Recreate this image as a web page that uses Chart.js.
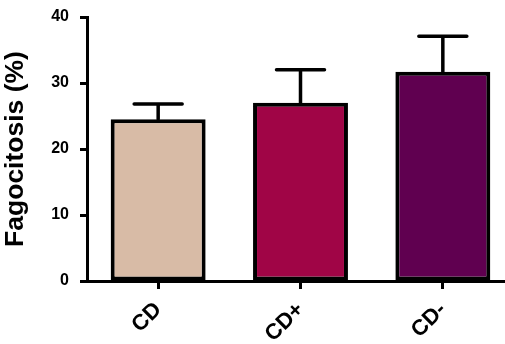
<!DOCTYPE html>
<html>
<head>
<meta charset="utf-8">
<script src="https://cdn.jsdelivr.net/npm/chart.js@4.4.1/dist/chart.umd.min.js"></script>
<style>
  html, body { margin: 0; padding: 0; background: #fff; overflow: hidden; width: 505px; height: 344px; }
  #wrap { position: relative; width: 514px; height: 344px; }
</style>
</head>
<body>
<div id="wrap"><canvas id="c" width="514" height="344"></canvas></div>
<script>
// Phagocytosis by group: mean and SEM
const categories = ['CD', 'CD+', 'CD-'];
const meanValues = [24.5, 27.0, 31.7];
const errValues = [2.3, 5.0, 5.4];
const barColors = ['#D8BBA6', '#A00546', '#600050'];
const yTicks = [0, 10, 20, 30, 40];

const FONT = '"Liberation Sans", Arial, Helvetica, sans-serif';

// Draws upper error whiskers with a cap on every bar
const errorBars = {
  id: 'errorBars',
  afterDatasetsDraw(chart) {
    const ctx = chart.ctx;
    const meta = chart.getDatasetMeta(0);
    const yScale = chart.scales.y;
    ctx.save();
    ctx.strokeStyle = '#000';
    ctx.lineWidth = 3.5;
    ctx.lineCap = 'round';
    meta.data.forEach((bar, i) => {
      const top = yScale.getPixelForValue(meanValues[i] + errValues[i]);
      const x = bar.x;
      ctx.beginPath();
      ctx.moveTo(x, bar.y);
      ctx.lineTo(x, top);
      ctx.moveTo(x - 24, top);
      ctx.lineTo(x + 24, top);
      ctx.stroke();
    });
    ctx.restore();
  }
};

new Chart(document.getElementById('c'), {
  type: 'bar',
  data: {
    labels: categories,
    datasets: [{
      data: meanValues,
      backgroundColor: barColors,
      borderColor: '#000',
      borderWidth: 4,
      borderSkipped: false,
      barPercentage: 0.667,
      categoryPercentage: 1.0
    }]
  },
  options: {
    responsive: false,
    animation: false,
    devicePixelRatio: 1,
    layout: { padding: { top: 17, left: 0, right: 0, bottom: 0 } },
    plugins: { legend: { display: false }, tooltip: { enabled: false } },
    scales: {
      x: {
        offset: true,
        grid: {
          display: true,
          drawOnChartArea: false,
          drawTicks: true,
          tickLength: 8,
          tickWidth: 3,
          tickColor: '#000',
          offset: false
        },
        border: { display: true, color: '#000', width: 3 },
        ticks: {
          color: '#000',
          font: { family: FONT, size: 22, weight: 'bold' },
          maxRotation: 45,
          minRotation: 45,
          padding: 8
        },
        afterFit(scale) { scale.height = 63; scale.paddingLeft = 0; scale.paddingRight = 0; }
      },
      y: {
        min: 0,
        max: 40,
        afterBuildTicks(scale) { scale.ticks = yTicks.map(v => ({ value: v })); },
        grid: {
          display: true,
          drawOnChartArea: false,
          drawTicks: true,
          tickLength: 7,
          tickWidth: 3,
          tickColor: '#000'
        },
        border: { display: true, color: '#000', width: 3 },
        ticks: {
          color: '#000',
          font: { family: FONT, size: 16, weight: 'bold' },
          padding: 11
        },
        title: {
          display: true,
          text: 'Fagocitosis (%)',
          color: '#000',
          font: { family: FONT, size: 26.5, weight: 'bold' },
          padding: { top: 0, bottom: 5 }
        },
        afterFit(scale) { scale.width = 87; scale.paddingTop = 0; scale.paddingBottom = 0; }
      }
    }
  },
  plugins: [errorBars]
});
</script>
</body>
</html>
